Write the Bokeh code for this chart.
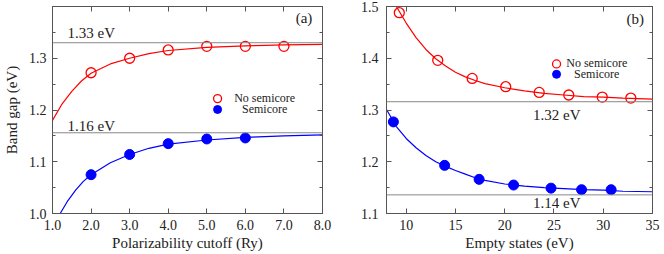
from bokeh.plotting import figure
from bokeh.layouts import row
from bokeh.models import (LinearAxis, Span, SingleIntervalTicker, PrintfTickFormatter,
                          Range1d, CustomJSTickFormatter)
from bokeh.core.properties import value
from bokeh.embed import file_html
from bokeh.resources import INLINE

FONT = "Liberation Serif"

# ---- panel (a): polarizability cutoff ----
a_x = [2.0, 3.0, 4.0, 5.0, 6.0, 7.0]
a_nosemi = [1.272, 1.300, 1.316, 1.323, 1.323, 1.323]
a_semi_x = [2.0, 3.0, 4.0, 5.0, 6.0]
a_semi = [1.075, 1.114, 1.135, 1.144, 1.146]
a_fit_nosemi_x = [1.0, 1.25, 1.5, 1.75, 2.0, 2.5, 3.0, 3.5, 4.0, 5.0, 6.0, 7.0, 8.0]
a_fit_nosemi_y = [1.180, 1.212, 1.236, 1.256, 1.271, 1.289, 1.300, 1.309, 1.315, 1.321, 1.324, 1.326, 1.327]
a_fit_semi_x = [1.2, 1.4, 1.6, 1.8, 2.0, 2.5, 3.0, 3.5, 4.0, 5.0, 6.0, 7.0, 8.0]
a_fit_semi_y = [1.000, 1.025, 1.045, 1.062, 1.075, 1.098, 1.114, 1.126, 1.134, 1.142, 1.147, 1.150, 1.152]
a_limits = [1.33, 1.156]
a_limit_labels = ["1.33 eV", "1.16 eV"]

# ---- panel (b): empty states ----
b_nosemi_x = [9.3, 13.2, 16.7, 20.1, 23.5, 26.5, 29.9, 32.8]
b_nosemi = [1.488, 1.396, 1.361, 1.345, 1.334, 1.329, 1.325, 1.323]
b_semi_x = [8.7, 13.9, 17.4, 20.9, 24.7, 27.8, 30.8]
b_semi = [1.277, 1.193, 1.166, 1.155, 1.149, 1.146, 1.146]
b_fit_nosemi_x = [9.0, 10, 11, 12, 13, 14, 15, 16, 17, 18, 20, 22, 24, 26, 28, 30, 32, 35]
b_fit_nosemi_y = [1.500, 1.468, 1.440, 1.417, 1.399, 1.385, 1.373, 1.364, 1.357, 1.351,
                  1.343, 1.337, 1.332, 1.329, 1.326, 1.325, 1.323, 1.321]
b_fit_semi_x = [8.0, 9, 10, 11, 12, 13, 14, 15, 16, 17, 18, 20, 22, 24, 26, 28, 30, 32, 35]
b_fit_semi_y = [1.301, 1.268, 1.245, 1.227, 1.212, 1.200, 1.191, 1.183, 1.176, 1.169, 1.164,
                1.157, 1.153, 1.150, 1.148, 1.146, 1.145, 1.143, 1.142]
b_limits = [1.316, 1.136]
b_limit_labels = ["1.32 eV", "1.14 eV"]

legend_labels = ["No semicore", "Semicore"]

RED = "#ff0000"
BLUE = "#0000ff"
FRAME = "#555555"
GRAY = "#888888"
TXT = "#222222"


def style(p, xint, xfmt, yint):
    p.outline_line_color = FRAME
    p.outline_line_width = 1
    p.grid.visible = False
    bottom = p.below[0]
    left = p.left[0]
    bottom.ticker = SingleIntervalTicker(interval=xint, num_minor_ticks=0)
    left.ticker = SingleIntervalTicker(interval=yint, num_minor_ticks=2)
    bottom.formatter = PrintfTickFormatter(format=xfmt)
    left.formatter = PrintfTickFormatter(format="%.1f")
    top = LinearAxis(ticker=SingleIntervalTicker(interval=xint, num_minor_ticks=0),
                     formatter=CustomJSTickFormatter(code="return ''"))
    right = LinearAxis(ticker=SingleIntervalTicker(interval=yint, num_minor_ticks=2),
                       formatter=CustomJSTickFormatter(code="return ''"))
    p.add_layout(top, "above")
    p.add_layout(right, "right")
    for ax in [top, right]:
        ax.major_label_standoff = 0
        ax.axis_label_standoff = 0
        ax.major_label_text_font_size = "1px"
    for ax in [bottom, left, top, right]:
        ax.axis_line_color = FRAME
        ax.major_tick_line_color = FRAME
        ax.minor_tick_line_color = FRAME
        ax.major_tick_in = 5
        ax.major_tick_out = 0
        ax.minor_tick_in = 3
        ax.minor_tick_out = 0
        ax.major_label_text_font = FONT
        ax.major_label_text_color = TXT
        ax.axis_label_text_font = FONT
        ax.axis_label_text_font_style = "normal"
        ax.axis_label_text_color = TXT
        ax.axis_label_text_font_size = "15px"
    for ax in [bottom, left]:
        ax.major_label_text_font_size = "14px"
    return bottom, left


def txt(p, x, y, s, align="left", size="15px"):
    p.text(x=[x], y=[y], text=[s], text_font=value(FONT), text_font_size=size,
           text_align=align, text_baseline="middle", text_color=TXT)


# ---------- panel a ----------
pa = figure(frame_width=270, height=255, output_backend="svg", toolbar_location=None,
            x_range=Range1d(1.0, 8.0), y_range=Range1d(1.0, 1.4),
            min_border_left=45, min_border_right=20, min_border_top=8, min_border_bottom=38)
ba, la = style(pa, 1.0, "%.1f", 0.1)
ba.axis_label = "Polarizability cutoff (Ry)"
la.axis_label = "Band gap (eV)"
ba.major_label_standoff = 6
la.major_label_standoff = 6
ba.axis_label_standoff = 2
la.axis_label_standoff = 6
for v in a_limits:
    pa.add_layout(Span(location=v, dimension="width", line_color=GRAY, line_width=1))
pa.line(a_fit_nosemi_x, a_fit_nosemi_y, line_color=RED, line_width=1.2)
pa.line(a_fit_semi_x, a_fit_semi_y, line_color=BLUE, line_width=1.2)
pa.scatter(a_x, a_nosemi, size=10, fill_color=None, line_color=RED, line_width=1.3)
pa.scatter(a_semi_x, a_semi, size=10, fill_color=BLUE, line_color=BLUE)
pa.scatter([5.28], [1.222], size=8, fill_color=None, line_color=RED, line_width=1.3)
pa.scatter([5.28], [1.201], size=8, fill_color=BLUE, line_color=BLUE)
txt(pa, 6.50, 1.223, legend_labels[0], "center", "12px")
txt(pa, 6.50, 1.202, legend_labels[1], "center", "12px")
txt(pa, 1.39, 1.349, a_limit_labels[0])
txt(pa, 1.39, 1.170, a_limit_labels[1])
txt(pa, 7.52, 1.377, "(a)", "center")

# ---------- panel b ----------
pb = figure(frame_width=266, height=255, output_backend="svg", toolbar_location=None,
            x_range=Range1d(8.0, 35.0), y_range=Range1d(1.1, 1.5),
            min_border_left=44, min_border_right=8, min_border_top=8, min_border_bottom=38)
bb, lb = style(pb, 5.0, "%d", 0.1)
bb.axis_label = "Empty states (eV)"
bb.major_label_standoff = 6
lb.major_label_standoff = 8
bb.axis_label_standoff = 2
for v in b_limits:
    pb.add_layout(Span(location=v, dimension="width", line_color=GRAY, line_width=1))
pb.line(b_fit_nosemi_x, b_fit_nosemi_y, line_color=RED, line_width=1.2)
pb.line(b_fit_semi_x, b_fit_semi_y, line_color=BLUE, line_width=1.2)
pb.scatter(b_nosemi_x, b_nosemi, size=10, fill_color=None, line_color=RED, line_width=1.3)
pb.scatter(b_semi_x, b_semi, size=10, fill_color=BLUE, line_color=BLUE)
pb.scatter([25.26], [1.389], size=8, fill_color=None, line_color=RED, line_width=1.3)
pb.scatter([25.26], [1.369], size=8, fill_color=BLUE, line_color=BLUE)
txt(pb, 29.34, 1.390, legend_labels[0], "center", "12px")
txt(pb, 29.34, 1.370, legend_labels[1], "center", "12px")
txt(pb, 22.87, 1.291, b_limit_labels[0])
txt(pb, 22.87, 1.121, b_limit_labels[1])
txt(pb, 33.25, 1.476, "(b)", "center")

layout = row(pa, pb, styles={"margin-top": "-2px"})
open("out.html", "w").write(file_html(layout, INLINE))
